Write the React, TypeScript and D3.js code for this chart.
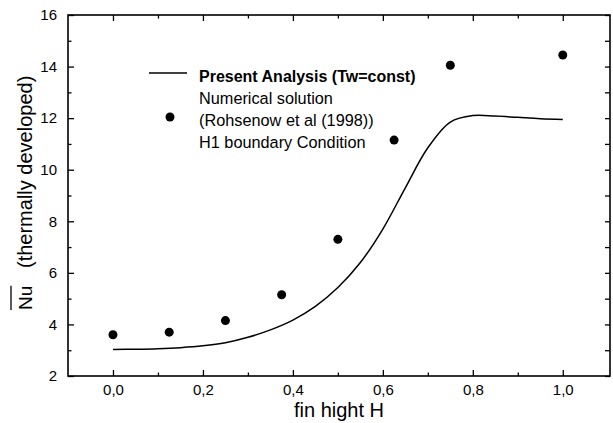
import * as d3 from "d3";
import { useEffect, useRef } from "react";

// Present analysis curve (Tw = const)
const curveH = [0, 0.05, 0.1, 0.15, 0.2, 0.25, 0.3, 0.35, 0.4, 0.45, 0.5, 0.55, 0.6, 0.65, 0.7, 0.75, 0.8, 0.85, 0.9, 0.95, 1.0];
const curveNu = [3.03, 3.04, 3.06, 3.1, 3.17, 3.29, 3.5, 3.79, 4.17, 4.7, 5.43, 6.4, 7.7, 9.3, 10.85, 11.85, 12.1, 12.08, 12.03, 11.98, 11.95];

// Numerical solution, Rohsenow et al (1998), H1 boundary condition
const pointH = [0, 0.125, 0.25, 0.375, 0.5, 0.625, 0.75, 1.0];
const pointNu = [3.6, 3.7, 4.15, 5.15, 7.3, 11.15, 14.05, 14.45];

const xMajor = [0, 0.2, 0.4, 0.6, 0.8, 1.0];
const xMinor = [0.1, 0.3, 0.5, 0.7, 0.9];
const yMajor = [2, 4, 6, 8, 10, 12, 14, 16];
const yMinor = [3, 5, 7, 9, 11, 13, 15];
const yAll = d3.range(2, 17);

const W = 613;
const H = 423;
const margin = { top: 15, right: 3, bottom: 47, left: 68 };
const FONT = "'Liberation Sans', Arial, Helvetica, sans-serif";

export default function App() {
  const ref = useRef<SVGSVGElement | null>(null);

  useEffect(() => {
    const svg = d3.select(ref.current);
    svg.selectAll("*").remove();

    const innerW = W - margin.left - margin.right;
    const innerH = H - margin.top - margin.bottom;

    const x = d3.scaleLinear().domain([-0.1, 1.105]).range([0, innerW]);
    const y = d3.scaleLinear().domain([2, 16]).range([innerH, 0]);

    const g = svg.append("g").attr("transform", `translate(${margin.left},${margin.top})`);
    const fmt = (v: d3.NumberValue) => d3.format(".1f")(+v).replace(".", ",");

    const styleAxis = (a: d3.Selection<SVGGElement, unknown, null, undefined>) => {
      a.select(".domain").remove();
      a.selectAll("line").attr("stroke", "#000").attr("stroke-width", 1.3);
      a.selectAll("text").attr("fill", "#000").attr("font-family", FONT).attr("font-size", 15);
    };

    // bottom
    g.append("g")
      .attr("transform", `translate(0,${innerH})`)
      .call(d3.axisBottom(x).tickValues(xMajor).tickSize(-6).tickPadding(8).tickFormat(fmt))
      .call(styleAxis);
    g.append("g")
      .attr("transform", `translate(0,${innerH})`)
      .call(d3.axisBottom(x).tickValues(xMinor).tickSize(-3.5).tickFormat(() => ""))
      .call(styleAxis);
    // top
    g.append("g")
      .call(d3.axisTop(x).tickValues(xMajor).tickSize(-6).tickFormat(() => ""))
      .call(styleAxis);
    g.append("g")
      .call(d3.axisTop(x).tickValues(xMinor).tickSize(-3.5).tickFormat(() => ""))
      .call(styleAxis);
    // left
    g.append("g")
      .call(d3.axisLeft(y).tickValues(yMajor).tickSize(-6).tickPadding(11).tickFormat(d3.format("d")))
      .call(styleAxis);
    g.append("g")
      .call(d3.axisLeft(y).tickValues(yMinor).tickSize(-3.5).tickFormat(() => ""))
      .call(styleAxis);
    // right
    g.append("g")
      .attr("transform", `translate(${innerW},0)`)
      .call(d3.axisRight(y).tickValues(yAll).tickSize(-5).tickFormat(() => ""))
      .call(styleAxis);

    // frame
    g.append("rect")
      .attr("width", innerW)
      .attr("height", innerH)
      .attr("fill", "none")
      .attr("stroke", "#000")
      .attr("stroke-width", 1.6);

    // curve
    const line = d3
      .line<number>()
      .x((_, i) => x(curveH[i]))
      .y((d) => y(d))
      .curve(d3.curveCatmullRom.alpha(0.5));
    g.append("path")
      .datum(curveNu)
      .attr("d", line)
      .attr("fill", "none")
      .attr("stroke", "#000")
      .attr("stroke-width", 1.5);

    // points
    g.append("g")
      .selectAll("circle")
      .data(pointNu)
      .join("circle")
      .attr("cx", (_, i) => x(pointH[i]))
      .attr("cy", (d) => y(d))
      .attr("r", 4.5)
      .attr("fill", "#000");

    // legend
    const lg = svg.append("g").attr("font-family", FONT).attr("fill", "#000");
    lg.append("line").attr("x1", 149).attr("x2", 187).attr("y1", 73).attr("y2", 73).attr("stroke", "#000").attr("stroke-width", 1.5);
    lg.append("circle").attr("cx", 170).attr("cy", 117).attr("r", 4.5).attr("fill", "#000");
    lg.append("text").attr("x", 199).attr("y", 82).attr("font-size", 16).attr("font-weight", "bold").text("Present Analysis (Tw=const)");
    const rows = ["Numerical solution", "(Rohsenow et al (1998))", "H1 boundary Condition"];
    rows.forEach((t, i) => {
      lg.append("text").attr("x", 199).attr("y", 104 + i * 22).attr("font-size", 16.3).text(t);
    });

    // x title
    svg.append("text")
      .attr("x", margin.left + innerW / 2)
      .attr("y", 417)
      .attr("text-anchor", "middle")
      .attr("font-family", FONT)
      .attr("font-size", 20)
      .attr("fill", "#000")
      .text("fin hight H");

    // y title
    const yt = svg.append("g").attr("transform", "translate(32,0) rotate(-90)").attr("font-family", FONT).attr("fill", "#000");
    const nu = yt.append("text").attr("x", -310).attr("y", 0).attr("font-size", 19).text("Nu");
    const nuLen = (nu.node() as SVGTextElement).getComputedTextLength();
    yt.append("line")
      .attr("x1", -310)
      .attr("x2", -310 + nuLen)
      .attr("y1", -21)
      .attr("y2", -21)
      .attr("stroke", "#000")
      .attr("stroke-width", 1.3);
    yt.append("text").attr("x", -268).attr("y", 0).attr("font-size", 20).text("(thermally developed)");
  }, []);

  return (
    <svg
      ref={ref}
      width={W}
      height={H}
      style={{ position: "absolute", left: 0, top: 0, background: "#fff" }}
    />
  );
}
